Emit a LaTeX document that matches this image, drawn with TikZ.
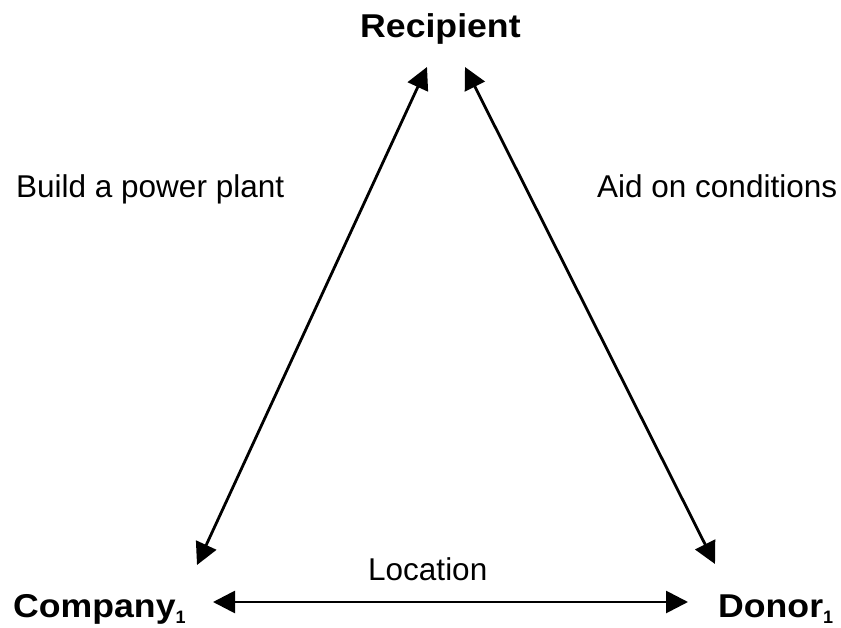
\documentclass[tikz,border=0pt]{standalone}
\usepackage{fontspec}
\setmainfont{Liberation Sans}
\usetikzlibrary{arrows.meta}
\tikzset{
  lbl/.style={inner sep=0pt, anchor=base west, font=\fontsize{31.5}{36}\selectfont},
  actor/.style={inner sep=0pt, anchor=base west, font=\fontsize{33}{38}\selectfont\bfseries},
  link/.style={line width=2.8pt, {Triangle[length=22pt,width=22pt]}-{Triangle[length=22pt,width=22pt]}}
}
\newcommand{\wide}[1]{\scalebox{1.08}[1]{#1}}
\newcommand{\subone}{\raisebox{-0.2em}{\fontsize{18}{18}\selectfont 1}}
\begin{document}
\begin{tikzpicture}[x=1pt,y=-1pt]
\useasboundingbox (0,0) rectangle (841,628);
% actors
\node[actor] (rec) at (360,38) {\wide{Recipient}};
\node[actor] (comp) at (13,617) {\wide{Company}\subone};
\node[actor] (don) at (718,617) {\wide{Donor}\subone};
% relation labels
\node[lbl] (build) at (16,198) {Build a power plant};
\node[lbl] (aid) at (597,198) {Aid on conditions};
\node[lbl] (loc) at (368,580) {Location};
% connector ends
\coordinate (recL) at (427,67);
\coordinate (recR) at (465,67);
\coordinate (compT) at (197,565);
\coordinate (donT) at (715,564);
\coordinate (compR) at (213,602);
\coordinate (donL) at (688,602);
\draw[link] (compT) -- (recL);
\draw[link] (donT) -- (recR);
\draw[link] (compR) -- (donL);
\end{tikzpicture}
\end{document}
